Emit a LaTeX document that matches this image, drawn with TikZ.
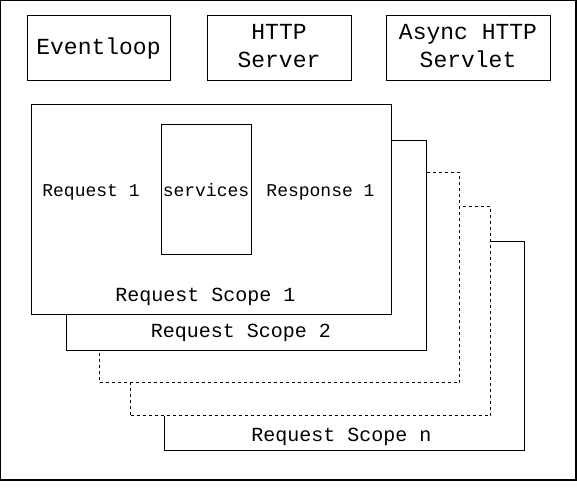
\documentclass[tikz,border=0pt]{standalone}
\usepackage{fontspec}
\setmonofont{Liberation Mono}
\begin{document}
\begin{tikzpicture}[x=1pt,y=-1pt,
  frame/.style={draw, line width=1pt, fill=white, inner sep=0pt, outer sep=0pt, anchor=north west},
  dframe/.style={frame, dash pattern=on 3pt off 3pt},
  bigtxt/.style={font=\ttfamily\fontsize{23}{28}\selectfont, align=center, inner sep=0pt},
  scopetxt/.style={font=\ttfamily\fontsize{20}{24}\selectfont, inner sep=0pt, anchor=base},
  smalltxt/.style={font=\ttfamily\fontsize{18}{22}\selectfont, inner sep=0pt, anchor=base}]
\useasboundingbox (0,0) rectangle (577,489);
\draw[line width=2pt] (0,0) rectangle (576,480);
\begin{scope}[shift={(0.5,0.5)}]
% top boxes
\node[frame, minimum width=143pt, minimum height=65pt] (ev) at (27,15) {};
\node[frame, minimum width=144pt, minimum height=65pt] (http) at (207,15) {};
\node[frame, minimum width=164pt, minimum height=65pt] (async) at (386,15) {};
% scopes (back to front)
\node[frame, minimum width=360pt, minimum height=209pt] (sn) at (164,241) {};
\node[dframe, minimum width=360pt, minimum height=209pt] (s4) at (130,206) {};
\node[dframe, minimum width=360pt, minimum height=210pt] (s3) at (99,172) {};
\node[frame, minimum width=360pt, minimum height=210pt] (s2) at (66,140) {};
\node[frame, minimum width=360pt, minimum height=210pt] (s1) at (31,104) {};
\node[frame, minimum width=90pt, minimum height=130pt] (srv) at (161,124) {};
\end{scope}
% texts
\node[bigtxt, anchor=base] (evt) at (98.5,55) {Eventloop};
\node[bigtxt] (httpt) at (279,45.8) {HTTP\\Server};
\node[bigtxt] (asynct) at (468,45.8) {Async HTTP\\Servlet};
\node[smalltxt] (req1) at (91,196) {Request 1};
\node[smalltxt] (srvt) at (206,196) {services};
\node[smalltxt] (resp1) at (320.5,196) {Response 1};
\node[scopetxt] (s1t) at (205.5,301) {Request Scope 1};
\node[scopetxt] (s2t) at (241,337) {Request Scope 2};
\node[scopetxt] (snt) at (341.5,441) {Request Scope n};
\end{tikzpicture}
\end{document}
